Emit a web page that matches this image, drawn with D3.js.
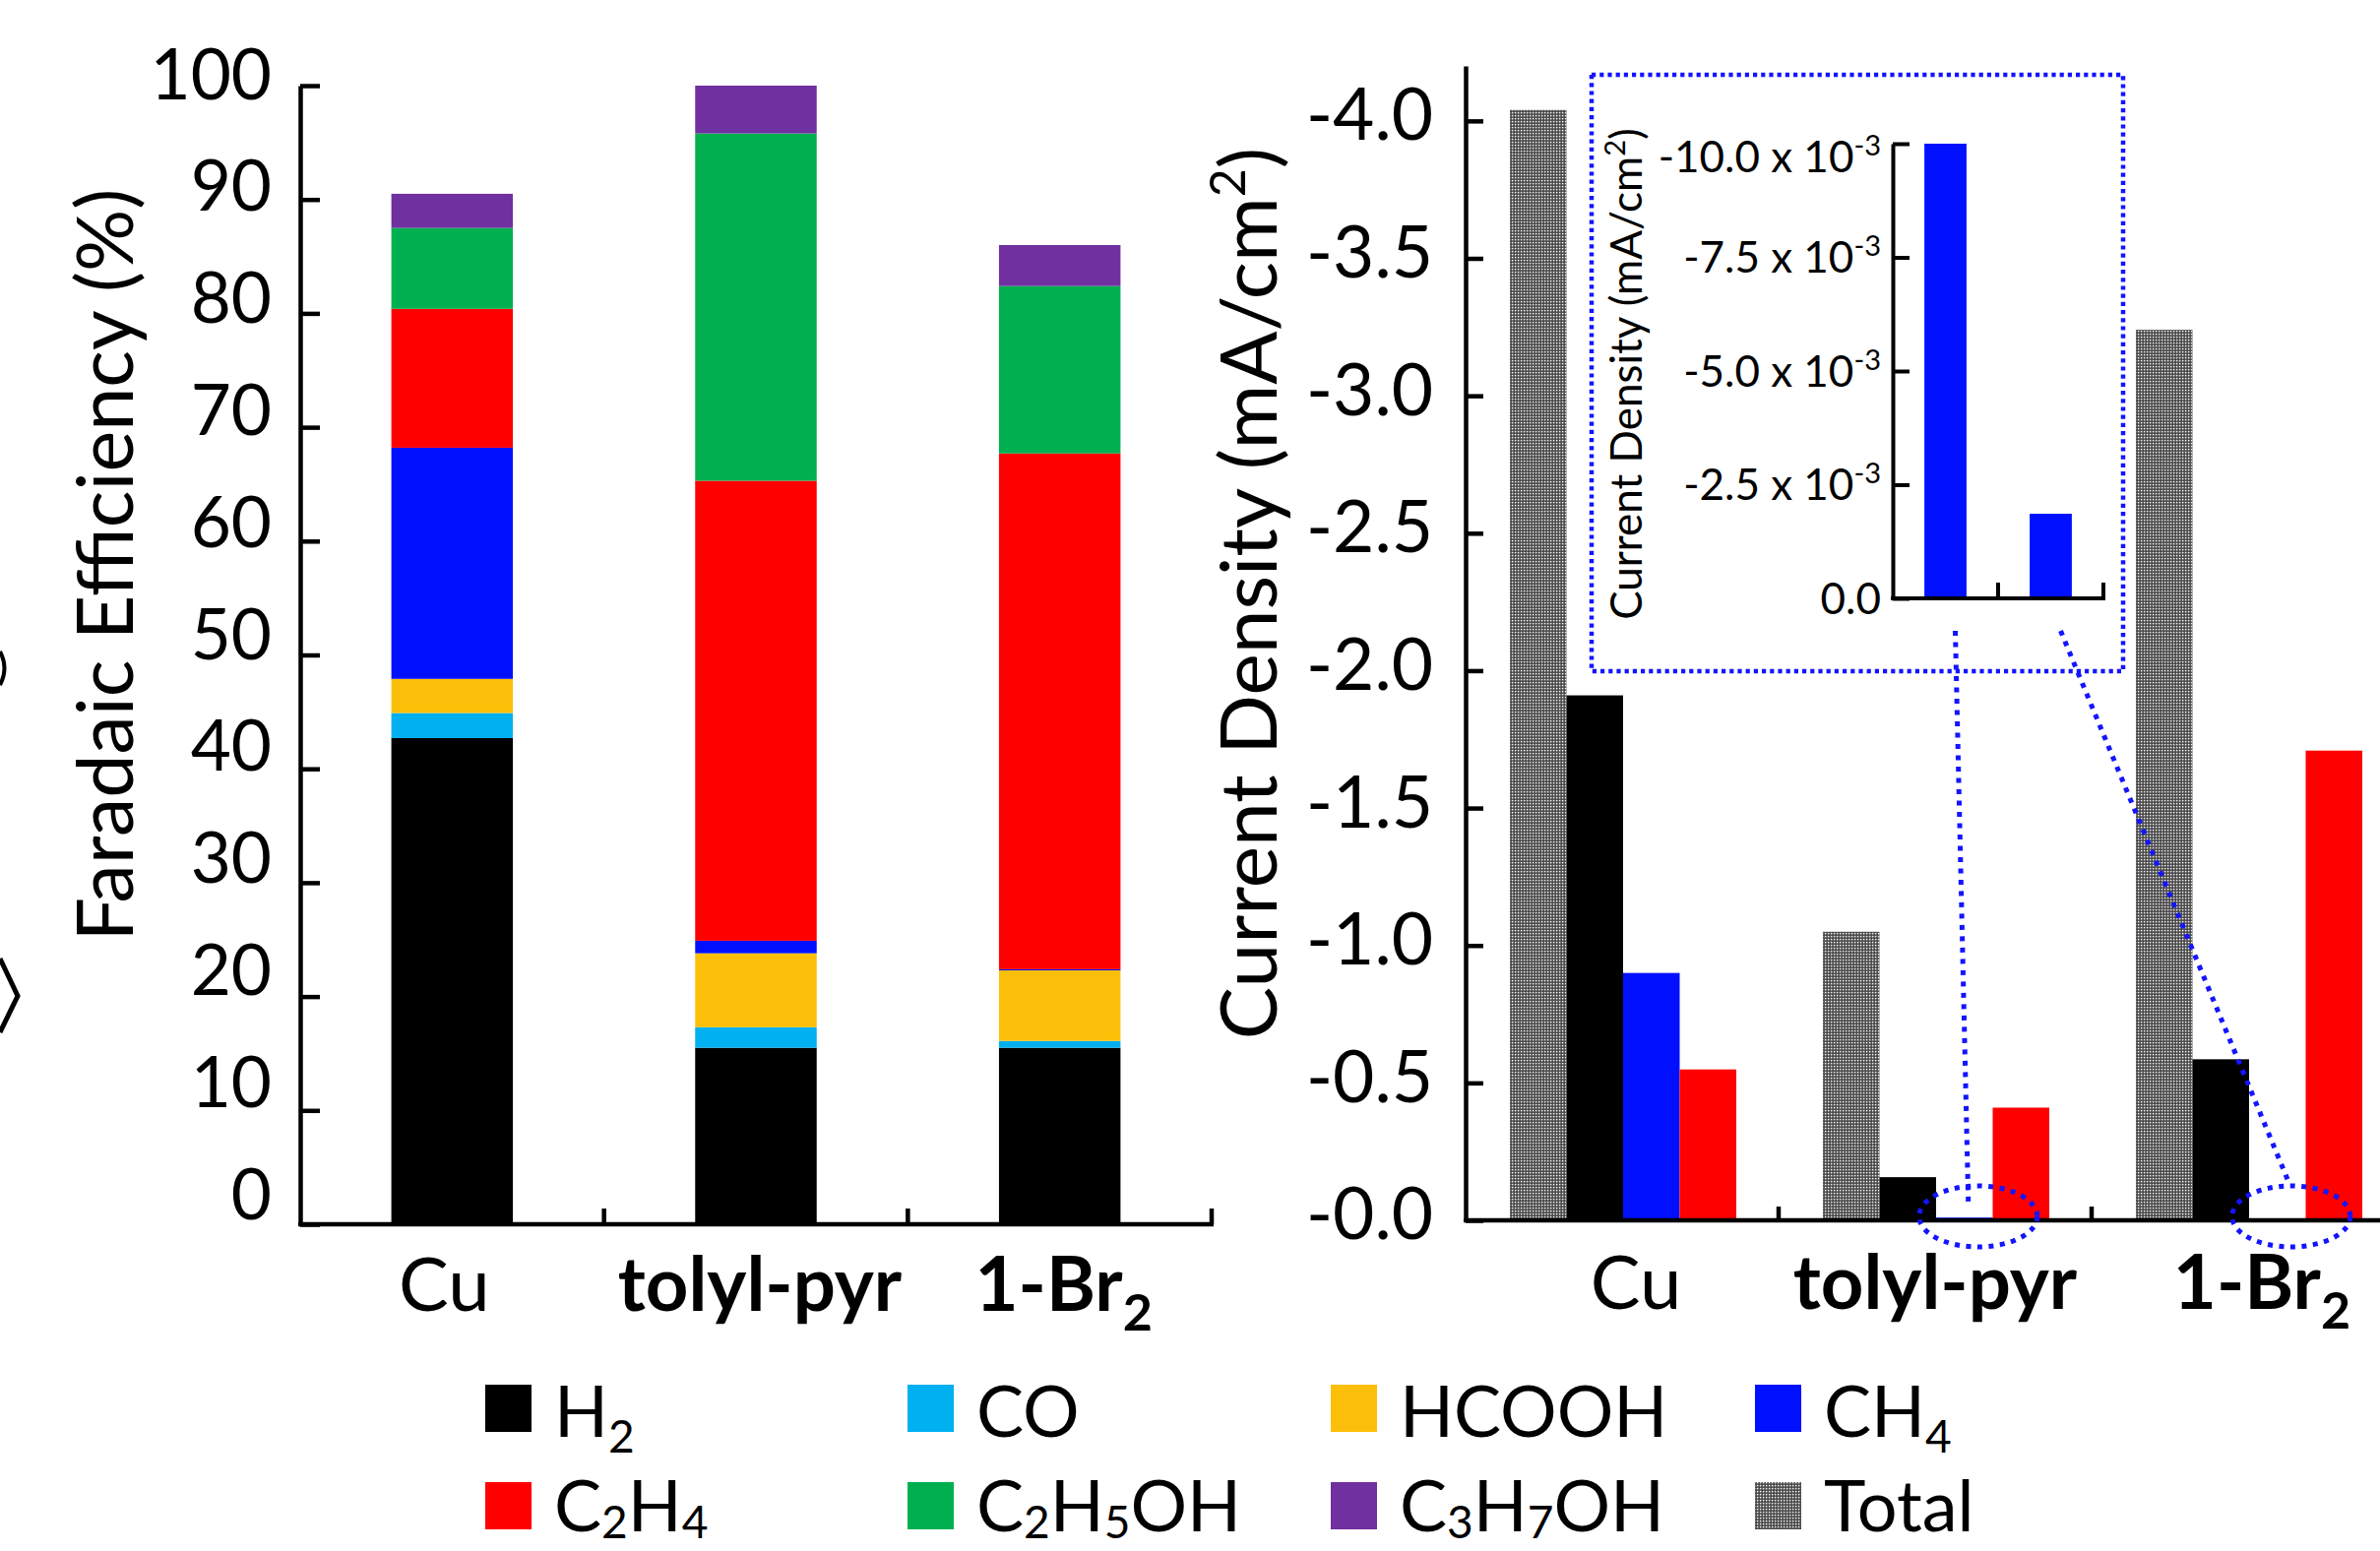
<!DOCTYPE html>
<html><head><meta charset="utf-8">
<script src="https://cdn.jsdelivr.net/npm/d3@7"></script>
<style>
body{margin:0;background:#fff}
svg{display:block}
text{font-family:Lato,"Open Sans",sans-serif;fill:#000}
</style></head>
<body><svg id="chart" width="2418" height="1576"></svg>
<script>
// ---------------- data ----------------
const categories = ["Cu", "tolyl-pyr", "1-Br2"];
const categoryBold = [false, true, true];
const products = ["H2", "CO", "HCOOH", "CH4", "C2H4", "C2H5OH", "C3H7OH"];
const productColors = ["#000000", "#00b0f0", "#fcbf09", "#0010ff", "#ff0000", "#00b050", "#7030a0"];

// Faradaic efficiency (%) per product, one value per category
const feH2     = [42.7, 15.5, 15.5];
const feCO     = [2.2, 1.8, 0.6];
const feHCOOH  = [3.0, 6.5, 6.2];
const feCH4    = [20.3, 1.1, 0.1];
const feC2H4   = [12.2, 40.4, 45.3];
const feC2H5OH = [7.1, 30.5, 14.7];
const feC3H7OH = [3.0, 4.2, 3.6];
const feTicks  = [0, 10, 20, 30, 40, 50, 60, 70, 80, 90, 100];

// Partial current density (magnitude, mA/cm2), shown as negative
const jSeries   = ["Total", "H2", "CH4", "C2H4"];
const jTotal    = [4.04, 1.05, 3.24];
const jH2       = [1.91, 0.157, 0.586];
const jCH4      = [0.90, 0.0100, 0.00186];
const jC2H4     = [0.549, 0.41, 1.709];
const jTicks    = [0, 0.5, 1.0, 1.5, 2.0, 2.5, 3.0, 3.5, 4.0];

// inset (CH4, x10^-3 mA/cm2)
const insetCategories = ["tolyl-pyr", "1-Br2"];
const insetCH4 = [10.0, 1.86];
const insetTicks = [0, 2.5, 5.0, 7.5, 10.0];

const legendItems = ["H2", "CO", "HCOOH", "CH4", "C2H4", "C2H5OH", "C3H7OH", "Total"];

// ---------------- helpers ----------------
const svg = d3.select("#chart");
const defs = svg.append("defs");
const pat = defs.append("pattern").attr("id", "grayPat").attr("patternUnits", "userSpaceOnUse")
  .attr("width", 3).attr("height", 3);
pat.append("rect").attr("width", 3).attr("height", 3).attr("fill", "#5c5c5c");
pat.append("rect").attr("width", 1.3).attr("height", 1.3).attr("fill", "#f4f4f4");
pat.append("rect").attr("x", 1.6).attr("y", 1.6).attr("width", 1).attr("height", 1).attr("fill", "#222");

function colorOf(name) {
  if (name === "Total") return "url(#grayPat)";
  return productColors[products.indexOf(name)];
}

// write formula text: digits that follow a letter become subscripts
function formula(textSel, str, size, subSize, subDy) {
  const parts = str.split(/(?<=[A-Za-z])(\d+)/);
  let shifted = false;
  parts.forEach((p, i) => {
    if (p === "") return;
    const t = textSel.append("tspan").text(p);
    if (i % 2 === 1) {
      t.attr("font-size", subSize).attr("dy", subDy);
      shifted = true;
    } else {
      t.attr("font-size", size);
      if (shifted) { t.attr("dy", -subDy); shifted = false; }
    }
  });
}

// ---------------- left chart: stacked FE ----------------
const feSeries = [feH2, feCO, feHCOOH, feCH4, feC2H4, feC2H5OH, feC3H7OH];
const feRows = categories.map((c, i) => {
  const o = { cat: c };
  products.forEach((p, k) => o[p] = feSeries[k][i]);
  return o;
});
const stack = d3.stack().keys(products)(feRows);

const xL = d3.scaleBand().domain(categories).range([305, 1231]).paddingInner(0.6).paddingOuter(0.3);
const yL = d3.scaleLinear().domain([0, 100]).range([1244, 87]);
const yLabL = d3.scaleLinear().domain([0, 100]).range([1213, 75]); // tick text column

const gL = svg.append("g");
stack.forEach((layer, k) => {
  gL.selectAll(null).data(layer).enter().append("rect")
    .attr("x", d => xL(d.data.cat))
    .attr("width", xL.bandwidth())
    .attr("y", d => yL(d[1]))
    .attr("height", d => yL(d[0]) - yL(d[1]))
    .attr("fill", productColors[k]);
});

const axLY = gL.append("g").attr("transform", "translate(305,0)")
  .call(d3.axisLeft(yL).tickValues(feTicks).tickSize(-20).tickSizeOuter(0).tickFormat(""));
const axLX = gL.append("g").attr("transform", "translate(0,1244)")
  .call(d3.axisBottom(xL).tickSize(0).tickFormat(""));
[axLY, axLX].forEach(a => { a.selectAll("path,line").attr("stroke", "#000").attr("stroke-width", 4.5); });
axLX.select("path").attr("d", `M${305 - 2},0H${1231 + 2}`);
categories.forEach((c, i) => {
  const bx = xL.range()[0] + xL.step() * (i + 1);
  gL.append("line").attr("x1", bx).attr("x2", bx).attr("y1", 1244).attr("y2", 1228)
    .attr("stroke", "#000").attr("stroke-width", 4.5);
});
gL.selectAll(null).data(feTicks).enter().append("text")
  .attr("x", 276).attr("y", d => yLabL(d)).attr("dy", "0.36em")
  .attr("text-anchor", "end").attr("font-size", 71).text(d => d);

gL.append("text").attr("transform", "translate(135,574) rotate(-90)")
  .attr("text-anchor", "middle").attr("font-size", 79).text("Faradaic Efficiency (%)");

categories.forEach((c, i) => {
  const t = gL.append("text").attr("x", xL(c) + xL.bandwidth() / 2 + (i === 0 ? -8 : 4)).attr("y", 1332)
    .attr("text-anchor", "middle").attr("font-weight", categoryBold[i] ? 700 : 400);
  formula(t, c, 76, 52, 20);
});

// ---------------- right chart: current density ----------------
const jData = { Total: jTotal, H2: jH2, CH4: jCH4, C2H4: jC2H4 };
const x0R = d3.scaleBand().domain(categories).range([1489, 1489 + 3 * 318]);
const x1R = d3.scaleBand().domain(jSeries).range([45, 275]);
const yR = d3.scaleLinear().domain([0, 4.2]).range([1240, 67]);

const gR = svg.append("g");
categories.forEach((c, i) => {
  gR.selectAll(null).data(jSeries).enter().append("rect")
    .attr("x", s => x0R(c) + x1R(s))
    .attr("width", x1R.bandwidth())
    .attr("y", s => yR(jData[s][i]))
    .attr("height", s => yR(0) - yR(jData[s][i]))
    .attr("fill", s => colorOf(s));
});
const axRY = gR.append("g").attr("transform", "translate(1489,0)")
  .call(d3.axisLeft(yR).tickValues(jTicks).tickSize(-18).tickSizeOuter(0).tickPadding(33)
    .tickFormat(d => "-" + d3.format(".1f")(d)));
const axRX = gR.append("g").attr("transform", "translate(0,1240)")
  .call(d3.axisBottom(x0R).tickSize(0).tickFormat(""));
[axRY, axRX].forEach(a => { a.selectAll("path,line").attr("stroke", "#000").attr("stroke-width", 4.5); });
axRY.selectAll("text").attr("font-size", 73).attr("font-family", "Lato").attr("dy", "0.26em").attr("fill", "#000");
axRX.select("path").attr("d", `M${1489 - 2},0H${2460}`);
categories.forEach((c, i) => {
  const bx = x0R(c) + x0R.step();
  gR.append("line").attr("x1", bx).attr("x2", bx).attr("y1", 1240).attr("y2", 1226)
    .attr("stroke", "#000").attr("stroke-width", 4.5);
});
const tR = gR.append("text").attr("transform", "translate(1297,603) rotate(-90)")
  .attr("text-anchor", "middle").attr("font-size", 80);
tR.append("tspan").text("Current Density (mA/cm");
tR.append("tspan").text("2").attr("font-size", 50).attr("dy", -32);
tR.append("tspan").text(")").attr("dy", 32);

categories.forEach((c, i) => {
  const t = gR.append("text").attr("x", x0R(c) + x0R.bandwidth() / 2 + (i === 1 ? 0 : 14)).attr("y", 1330)
    .attr("text-anchor", "middle").attr("font-weight", categoryBold[i] ? 700 : 400);
  formula(t, c, 76, 52, 20);
});

// ---------------- inset ----------------
const dotBlue = "#1414ff";
const gI = svg.append("g");
gI.append("rect").attr("x", 1617).attr("y", 76).attr("width", 540).attr("height", 606)
  .attr("fill", "#fff").attr("stroke", dotBlue).attr("stroke-width", 4.5).attr("stroke-dasharray", "4.2,4");

const xI = d3.scaleBand().domain(insetCategories).range([1923, 2137]).paddingInner(0.6).paddingOuter(0.3);
const yI = d3.scaleLinear().domain([0, 10]).range([608, 146]);
gI.selectAll(null).data(insetCategories).enter().append("rect")
  .attr("x", d => xI(d)).attr("width", xI.bandwidth())
  .attr("y", (d, i) => yI(insetCH4[i])).attr("height", (d, i) => yI(0) - yI(insetCH4[i]))
  .attr("fill", colorOf("CH4"));
const axIY = gI.append("g").attr("transform", "translate(1923,0)")
  .call(d3.axisLeft(yI).tickValues(insetTicks).tickSize(-17).tickSizeOuter(0).tickFormat(""));
const axIX = gI.append("g").attr("transform", "translate(0,608)")
  .call(d3.axisBottom(xI).tickSize(0).tickFormat(""));
[axIY, axIX].forEach(a => { a.selectAll("path,line").attr("stroke", "#000").attr("stroke-width", 4); });
axIX.select("path").attr("d", `M${1923 - 2},0H${2137 + 2}`);
insetCategories.forEach((c, i) => {
  const bx = xI.range()[0] + xI.step() * (i + 1);
  gI.append("line").attr("x1", bx).attr("x2", bx).attr("y1", 608).attr("y2", 592)
    .attr("stroke", "#000").attr("stroke-width", 4);
});
insetTicks.forEach(d => {
  const t = gI.append("text").attr("x", 1911).attr("y", yI(d) + (d === 10 ? 13 : 0))
    .attr("dy", "0.36em").attr("text-anchor", "end").attr("font-size", 44);
  if (d === 0) { t.text("0.0"); return; }
  t.append("tspan").text("-" + d3.format(".1f")(d) + " x 10");
  t.append("tspan").text("-3").attr("font-size", 29).attr("dy", -17);
});
const tI = gI.append("text").attr("transform", "translate(1668,380) rotate(-90)")
  .attr("text-anchor", "middle").attr("font-size", 44);
tI.append("tspan").text("Current Density (mA/cm");
tI.append("tspan").text("2").attr("font-size", 29).attr("dy", -17);
tI.append("tspan").text(")").attr("dy", 17);

// connectors from inset bars to the tiny CH4 bars in the main chart
const gC = svg.append("g").attr("fill", "none").attr("stroke", dotBlue).attr("stroke-width", 5)
  .attr("stroke-dasharray", "5,6.5");
insetCategories.forEach((c, i) => {
  const ci = categories.indexOf(c);
  const mainX = x0R(categories[ci]) + x1R("CH4") + x1R.bandwidth() / 2 + 14;
  const insetX = xI(c) + xI.bandwidth() / 2 + 10;
  gC.append("ellipse").attr("cx", mainX).attr("cy", 1236).attr("rx", 60).attr("ry", 31);
  gC.append("line").attr("x1", insetX).attr("y1", 641).attr("x2", mainX - 10 + 7 * i).attr("y2", 1222 - 22 * i);
});

// left-edge fragments of neighbouring panel
svg.append("path").attr("d", "M0,974 L18,1012 L0,1049").attr("fill", "none").attr("stroke", "#000").attr("stroke-width", 5);
svg.append("path").attr("d", "M0,662 Q9,679 0,696").attr("fill", "none").attr("stroke", "#000").attr("stroke-width", 4);

// ---------------- legend ----------------
const legCols = [493, 922, 1352, 1783];
const legRows = [1407, 1506];
const gLeg = svg.append("g");
legendItems.forEach((name, i) => {
  const row = Math.floor(i / 4);
  const cx = legCols[i % 4], cy = legRows[row];
  gLeg.append("rect").attr("x", cx).attr("y", cy).attr("width", 47).attr("height", 48).attr("fill", colorOf(name));
  const t = gLeg.append("text").attr("x", cx + 70).attr("y", cy + (row === 0 ? 53 : 50));
  formula(t, name, 72, 46, row === 0 ? 16 : 7);
});
</script>
</body></html>
